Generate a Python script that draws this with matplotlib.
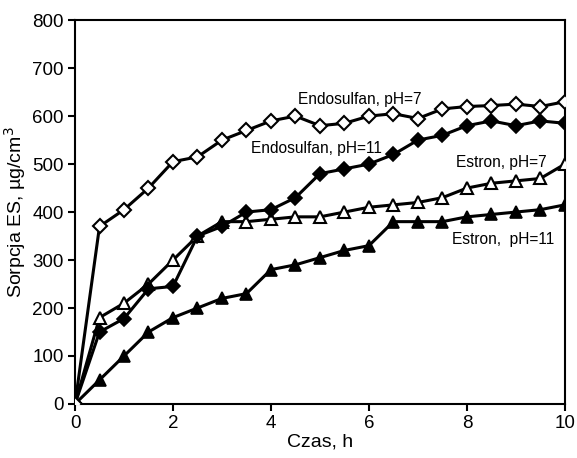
import matplotlib
matplotlib.use("Agg")
import matplotlib.pyplot as plt

plt.rcParams['font.family'] = ['Liberation Sans', 'DejaVu Sans']

czas = [0, 0.5, 1, 1.5, 2, 2.5, 3, 3.5, 4, 4.5, 5, 5.5, 6, 6.5, 7, 7.5, 8, 8.5, 9, 9.5, 10]
endo_ph7 = [0, 370, 405, 450, 505, 515, 550, 570, 590, 600, 580, 585, 600, 605, 595, 615, 620, 622, 625, 620, 630]
endo_ph11 = [0, 150, 178, 240, 245, 350, 370, 400, 405, 430, 480, 490, 500, 520, 550, 560, 580, 590, 580, 590, 585]
estron_ph7 = [0, 180, 210, 250, 300, 350, 380, 380, 385, 390, 390, 400, 410, 415, 420, 430, 450, 460, 465, 470, 500]
estron_ph11 = [0, 50, 100, 150, 180, 200, 220, 230, 280, 290, 305, 320, 330, 380, 380, 380, 390, 395, 400, 405, 415]

labels = ["Endosulfan, pH=7", "Endosulfan, pH=11", "Estron, pH=7", "Estron,  pH=11"]

fig = plt.figure(figsize=(5.77, 4.58), dpi=100)
ax = fig.add_axes([0.130, 0.118, 0.849, 0.838])

lw = 2.2
ax.plot(czas, estron_ph11, '-', color='black', lw=lw, marker='^', ms=8.5, mfc='black', mec='black', mew=1.2, zorder=3)
ax.plot(czas, estron_ph7, '-', color='black', lw=lw, marker='^', ms=8.5, mfc='white', mec='black', mew=1.5, zorder=3)
ax.plot(czas, endo_ph11, '-', color='black', lw=lw, marker='D', ms=7, mfc='black', mec='black', mew=1.2, zorder=3)
ax.plot(czas, endo_ph7, '-', color='black', lw=lw, marker='D', ms=7, mfc='white', mec='black', mew=1.5, zorder=3)

fs = 11.2
ax.text(5.82, 635, labels[0], fontsize=fs, ha='center', va='center')
ax.text(4.92, 533, labels[1], fontsize=fs, ha='center', va='center')
ax.text(8.71, 504, labels[2], fontsize=fs, ha='center', va='center')
ax.text(8.74, 342, labels[3], fontsize=fs, ha='center', va='center')

ax.set_xlim(0, 10)
ax.set_ylim(0, 800)
ax.set_xticks([0, 2, 4, 6, 8, 10])
ax.set_yticks(range(0, 801, 100))
ax.tick_params(direction='out', length=5, width=1.5, labelsize=13.5, pad=3)
ax.tick_params(axis='x', top=False)
ax.tick_params(axis='y', right=False)
for s in ax.spines.values():
    s.set_linewidth(1.5)
ax.set_xlabel("Czas, h", fontsize=14, labelpad=1)
ax.set_ylabel("Sorpcja ES, µg/cm$^3$", fontsize=14, labelpad=3)

fig.savefig("out.png", dpi=100)
